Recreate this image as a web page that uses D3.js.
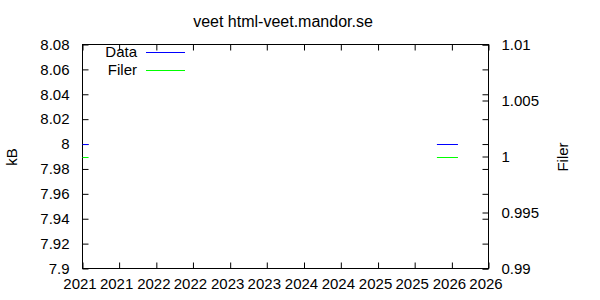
<!DOCTYPE html>
<html><head><meta charset="utf-8">
<script src="https://cdn.jsdelivr.net/npm/d3@7"></script>
<style>
body{margin:0;background:#fff;}
text{font-family:"Liberation Sans",Arial,sans-serif;font-size:15px;fill:#000;}
</style></head>
<body><svg id="c" width="600" height="300"></svg>
<script>
const title = "veet html-veet.mandor.se";
const seriesNames = ["Data", "Filer"];
const seriesColors = ["#0000ff", "#00ff00"];
// two separate runs of points (null = break)
const dates = ["2021-01-01", "2021-01-31", null, "2025-10-19", "2026-01-31"];
const dataValues = [8, 8, null, 8, 8];
const filerValues = [1, 1, null, 1, 1];
const xTicks = ["2021-01-01","2021-07-01","2022-01-01","2022-07-01","2023-01-01","2023-07-01","2024-01-01","2024-07-01","2025-01-01","2025-07-01","2026-01-01","2026-07-01"];
const yTicks = [7.9,7.92,7.94,7.96,7.98,8,8.02,8.04,8.06,8.08];
const y2Ticks = [0.99,0.995,1,1.005,1.01];
const yLabel = "kB", y2Label = "Filer";

const parse = d3.utcParse("%Y-%m-%d");
const svg = d3.select("#c");
const L = 82.5, R = 488.5, T = 44.5, B = 268.5;
const x = d3.scaleUtc().domain([parse(xTicks[0]), parse(xTicks[xTicks.length-1])]).range([L, R]);
const y = d3.scaleLinear().domain([7.9, 8.08]).range([B, T]);
const y2 = d3.scaleLinear().domain([0.99, 1.01]).range([B, T]);
const tl = 6;

// title
svg.append("text").attr("x", 283).attr("y", 27).attr("text-anchor","middle").style("font-size","16px").text(title);

// axes
const fmtY = d3.format("~g");
const gx = svg.append("g").attr("transform", `translate(0,${B})`)
  .call(d3.axisBottom(x).tickValues(xTicks.map(parse)).tickFormat(d3.utcFormat("%Y")).tickSizeInner(-tl).tickSizeOuter(0).tickPadding(10));
gx.selectAll("text").attr("dx", -3);
svg.append("g").attr("transform", `translate(0,${T})`)
  .call(d3.axisTop(x).tickValues(xTicks.map(parse)).tickFormat("").tickSizeInner(-tl).tickSizeOuter(0));
svg.append("g").attr("transform", `translate(${L},0)`)
  .call(d3.axisLeft(y).tickValues(yTicks).tickFormat(fmtY).tickSizeInner(-tl).tickSizeOuter(0).tickPadding(13));
svg.append("g").attr("transform", `translate(${R},0)`)
  .call(d3.axisRight(y).tickValues(yTicks).tickFormat("").tickSizeInner(-tl).tickSizeOuter(0));
svg.append("g").attr("transform", `translate(${R},0)`)
  .call(d3.axisRight(y2).tickValues(y2Ticks).tickFormat(fmtY).tickSizeInner(-tl).tickSizeOuter(0).tickPadding(13));
svg.selectAll(".domain").remove();
svg.selectAll(".tick line").attr("stroke","#000");
svg.selectAll(".tick text").style("font-size","15px").attr("font-family",null);
// border
svg.append("rect").attr("x",L).attr("y",T).attr("width",R-L).attr("height",B-T)
  .attr("fill","none").attr("stroke","#000").attr("stroke-width",1);

// axis labels
svg.append("text").attr("transform",`translate(17,157) rotate(-90)`).attr("text-anchor","middle").text(yLabel);
svg.append("text").attr("transform",`translate(568,157) rotate(-90)`).attr("text-anchor","middle").text(y2Label);

// lines
const pts = dates.map((d,i)=>({d: d?parse(d):null, v: dataValues[i], f: filerValues[i]}));
svg.append("path").datum(pts).attr("fill","none").attr("stroke",seriesColors[0]).attr("stroke-width",1)
  .attr("d", d3.line().defined(p=>p.d!==null).x(p=>x(p.d)).y(p=>Math.round(y(p.v))+0.5));
svg.append("path").datum(pts).attr("fill","none").attr("stroke",seriesColors[1]).attr("stroke-width",1)
  .attr("d", d3.line().defined(p=>p.d!==null).x(p=>x(p.d)).y(p=>Math.round(y2(p.f))+0.5));

// legend
seriesNames.forEach((n,i)=>{
  const ly = 52 + i*18;
  svg.append("text").attr("x",137).attr("y",ly+5).attr("text-anchor","end").text(n);
  svg.append("line").attr("x1",146).attr("x2",185).attr("y1",ly+0.5).attr("y2",ly+0.5)
    .attr("stroke",seriesColors[i]).attr("stroke-width",1);
});
</script></body></html>
